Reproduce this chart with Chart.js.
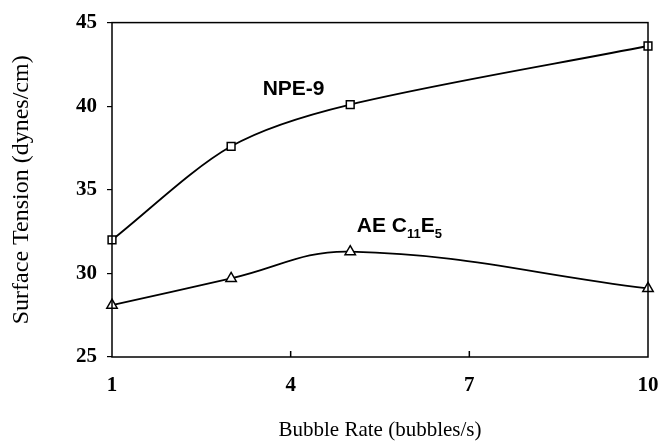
<!DOCTYPE html>
<html>
<head>
<meta charset="utf-8">
<script src="https://cdn.jsdelivr.net/npm/chart.js@4/dist/chart.umd.min.js"></script>
<style>
  html, body { margin: 0; padding: 0; background: #fff; }
  #wrap { width: 665px; height: 443px; }
</style>
</head>
<body>
<div id="wrap"><canvas id="tension-chart" width="665" height="443"></canvas></div>
<script>
// bubble rate (bubbles/s)
var rates = [1, 3, 5, 10];
// surface tension (dynes/cm)
var npe9 = [32.0, 37.6, 40.1, 43.6];
var aeC11E5 = [28.1, 29.7, 31.3, 29.1];
var xTicks = [1, 4, 7, 10];
var yTicks = [25, 30, 35, 40, 45];

function points(ys) {
  return rates.map(function (r, i) { return {x: r, y: ys[i]}; });
}

var sansBold = '"Liberation Sans", Arial, sans-serif';

// box around the plot, inward x ticks, and the curve labels
var framePlugin = {
  id: 'frame',
  afterDraw: function (chart) {
    var c = chart.ctx, a = chart.chartArea;
    var xs = chart.scales.x, ys = chart.scales.y;
    c.save();
    c.strokeStyle = '#000';
    c.lineWidth = 1.5;
    c.strokeRect(a.left, a.top, a.right - a.left, a.bottom - a.top);
    c.beginPath();
    [4, 7].forEach(function (v) {
      var px = xs.getPixelForValue(v);
      c.moveTo(px, a.bottom);
      c.lineTo(px, a.bottom - 6);
    });
    c.stroke();

    c.fillStyle = '#000';
    c.textBaseline = 'alphabetic';
    c.font = 'bold 21px ' + sansBold;
    c.fillText('NPE-9', xs.getPixelForValue(3.53), ys.getPixelForValue(40.67));

    // AE C11E5 with subscripts
    var x0 = xs.getPixelForValue(5.11), y0 = ys.getPixelForValue(32.48);
    var parts = [['AE C', 21, 0], ['11', 13, 6], ['E', 21, 0], ['5', 13, 6]];
    parts.forEach(function (p) {
      c.font = 'bold ' + p[1] + 'px ' + sansBold;
      c.fillText(p[0], x0, y0 + p[2]);
      x0 += c.measureText(p[0]).width;
    });
    c.restore();
  }
};

var ctx = document.getElementById('tension-chart');

var chart = new Chart(ctx, {
  type: 'line',
  data: {
    datasets: [
      {
        label: 'NPE-9',
        data: points(npe9),
        borderColor: '#000',
        borderWidth: 1.8,
        tension: 0.3,
        clip: false,
        pointStyle: 'rect',
        pointRadius: 5.5,
        pointBorderWidth: 1.5,
        pointBackgroundColor: '#fff',
        pointBorderColor: '#000'
      },
      {
        label: 'AE C11E5',
        data: points(aeC11E5),
        borderColor: '#000',
        borderWidth: 1.8,
        tension: 0.4,
        clip: false,
        pointStyle: 'triangle',
        pointRadius: 6,
        pointBorderWidth: 1.5,
        pointBackgroundColor: '#fff',
        pointBorderColor: '#000'
      }
    ]
  },
  options: {
    responsive: false,
    animation: false,
    layout: { padding: { top: 20, right: 17, left: 0, bottom: 0 } },
    plugins: {
      legend: { display: false },
      tooltip: { enabled: false }
    },
    scales: {
      x: {
        type: 'linear',
        min: 1,
        max: 10,
        afterBuildTicks: function (s) { s.ticks = xTicks.map(function (v) { return {value: v}; }); },
        afterFit: function (s) {
          s.height = 86;
          // don't let the "10" label push the plot edge in
          s.paddingLeft = 0;
          s.paddingRight = 0;
        },
        grid: { display: false, drawTicks: false },
        border: { display: false },
        ticks: {
          color: '#000',
          padding: 16,
          font: { family: '"Liberation Serif", "Times New Roman", serif', size: 21, weight: 'bold' }
        },
        title: {
          display: true,
          text: 'Bubble Rate (bubbles/s)',
          color: '#000',
          padding: { top: 18, bottom: 0 },
          font: { family: '"Liberation Serif", "Times New Roman", serif', size: 21 }
        }
      },
      y: {
        min: 25,
        max: 45,
        afterBuildTicks: function (s) { s.ticks = yTicks.map(function (v) { return {value: v}; }); },
        afterFit: function (s) { s.width = 112; },
        grid: { drawOnChartArea: false, drawTicks: true, tickLength: 5, color: '#000', lineWidth: 1.2 },
        border: { display: false },
        ticks: {
          color: '#000',
          padding: 10,
          font: { family: '"Liberation Serif", "Times New Roman", serif', size: 21, weight: 'bold' }
        },
        title: {
          display: true,
          text: 'Surface Tension (dynes/cm)',
          color: '#000',
          padding: { top: 7, bottom: 0 },
          font: { family: '"Liberation Serif", "Times New Roman", serif', size: 24 }
        }
      }
    }
  },
  plugins: [framePlugin]
});
</script>
</body>
</html>
